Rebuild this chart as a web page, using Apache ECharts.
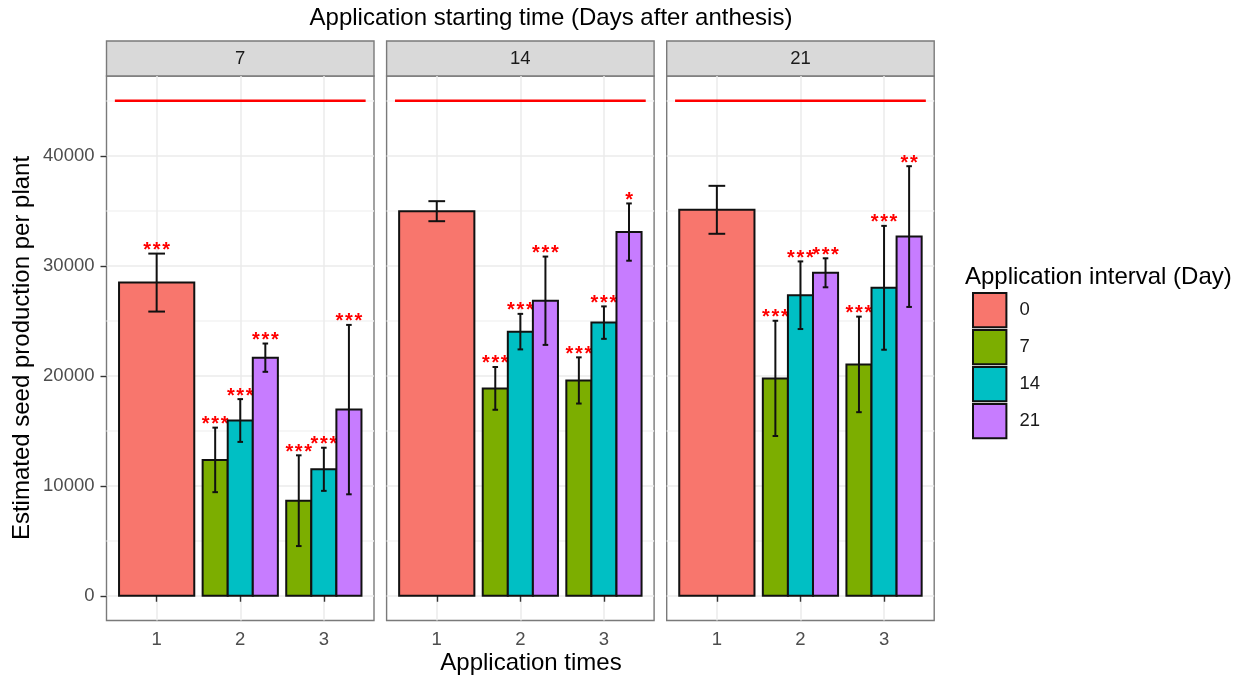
<!DOCTYPE html>
<html><head><meta charset="utf-8">
<script src="https://cdn.jsdelivr.net/npm/echarts@6/dist/echarts.min.js"></script>
<style>html,body{margin:0;padding:0;background:#fff}#c{width:1248px;height:679px}</style>
</head><body><div id="c"></div>
<script>
// ---------------- data ----------------
const facets = ['7', '14', '21'];            // application starting time (days after anthesis)
const intervals = ['0', '7', '14', '21'];    // application interval (day)
const timeTicks = [1, 2, 3];                 // application times
const yTicks = [0, 10000, 20000, 30000, 40000];
// interval 0: only at application time 1, one value per facet
const mean_i0 = [28470, 34960, 35085];
const err_i0 = [2635, 910, 2180];
const sig_i0 = ['***', '', ''];
// intervals 7/14/21: per facet, [time 2, time 3]
const mean_i7 = [[12350, 8642], [18852, 19573], [19761, 21032]];
const err_i7 = [[2933, 4125], [1945, 2100], [5238, 4344]];
const sig_i7 = [['***', '***'], ['***', '***'], ['***', '***']];
const mean_i14 = [[15930, 11496], [24011, 24830], [27321, 27995]];
const err_i14 = [[1945, 1960], [1615, 1475], [3074, 5630]];
const sig_i14 = [['***', '***'], ['***', '***'], ['***', '***']];
const mean_i21 = [[21644, 16922], [26820, 33061], [29360, 32653]];
const err_i21 = [[1286, 7700], [4015, 2603], [1318, 6398]];
const sig_i21 = [['***', '***'], ['***', '*'], ['***', '**']];
const refValue = 45000;
const refSpan = [0.5, 3.5];

// ---------------- layout / style ----------------
const FONT = '"Liberation Sans", Arial, Helvetica, sans-serif';
const colors = ['#F8766D', '#7CAE00', '#00BFC4', '#C77CFF'];
const panelLeft = [106.5, 386.6, 666.7];
const panelW = 267.5, panelTop = 76, panelH = 544.5;
const stripTop = 41, stripH = 35;
const xMin = 0.4, xMax = 3.6, xStep = 0.2;
const yMin = -2250, yMax = 47250, yStep = 250;
const dodge = 0.9;
const INK = '#111111';

function gridColors(min, max, step, kind) {
  const n = Math.round((max - min) / step) + 1, arr = [];
  for (let i = 0; i < n; i++) {
    const v = Math.round((min + i * step) * 1000) / 1000;
    const k = kind(v);
    arr.push(k === 2 ? '#ebebeb' : k === 1 ? '#f3f3f3' : 'rgba(0,0,0,0)');
  }
  return arr;
}
const xGrid = gridColors(xMin, xMax, xStep, v => (Math.abs(v - Math.round(v)) < 1e-6 && v >= 1 && v <= 3) ? 2 : 0);
const yGrid = gridColors(yMin, yMax, yStep, v => (v % 10000 === 0) ? 2 : (v % 5000 === 0 ? 1 : 0));

function makeRender(color, w, cap, sigs) {
  return function (params, api) {
    const x = api.value(0), m = api.value(1), e = api.value(2);
    const bl = api.coord([x - w / 2, 0]), tr = api.coord([x + w / 2, m]);
    const top = api.coord([x, m + e]), bot = api.coord([x, m - e]);
    const cl = api.coord([x - cap / 2, m])[0], cr = api.coord([x + cap / 2, m])[0];
    const ls = { stroke: INK, lineWidth: 2 };
    const children = [
      { type: 'rect', shape: { x: bl[0], y: tr[1], width: tr[0] - bl[0], height: bl[1] - tr[1] },
        style: { fill: color, stroke: INK, lineWidth: 2 } },
      { type: 'line', shape: { x1: top[0], y1: top[1], x2: bot[0], y2: bot[1] }, style: ls },
      { type: 'line', shape: { x1: cl, y1: top[1], x2: cr, y2: top[1] }, style: ls },
      { type: 'line', shape: { x1: cl, y1: bot[1], x2: cr, y2: bot[1] }, style: ls }
    ];
    const s = sigs[params.dataIndex];
    if (s) children.push({ type: 'text', x: top[0], y: top[1] - 3,
      style: { text: s.split('').join('\u200A'), fill: '#ff0000', font: 'bold 20px ' + FONT, align: 'center', verticalAlign: 'middle' } });
    return { type: 'group', children };
  };
}

const grids = [], xAxes = [], yAxes = [], series = [];
const groupMeans = [mean_i7, mean_i14, mean_i21];
const groupErrs = [err_i7, err_i14, err_i21];
const groupSigs = [sig_i7, sig_i14, sig_i21];

facets.forEach((f, i) => {
  grids.push({ left: panelLeft[i], top: panelTop, width: panelW, height: panelH, show: true,
    borderColor: '#7a7a7a', borderWidth: 1.4, backgroundColor: '#fff' });
  xAxes.push({ gridIndex: i, type: 'value', min: xMin, max: xMax, interval: xStep, position: 'top',
    axisLine: { show: false }, axisTick: { show: false }, axisLabel: { show: false },
    splitLine: { show: true, lineStyle: { color: xGrid, width: 1.5 } } });
  xAxes.push({ gridIndex: i, type: 'value', min: xMin, max: xMax, interval: xStep, position: 'bottom',
    axisLine: { show: false },
    axisTick: { show: true, customValues: timeTicks, length: 6, lineStyle: { color: '#333333', width: 1.4 } },
    axisLabel: { show: true, customValues: timeTicks, margin: 10, color: '#4d4d4d', fontSize: 18.5, fontFamily: FONT,
      formatter: v => String(Math.round(v)) },
    splitLine: { show: false } });
  yAxes.push({ gridIndex: i, type: 'value', min: yMin, max: yMax, interval: yStep, position: 'right',
    axisLine: { show: false }, axisTick: { show: false }, axisLabel: { show: false },
    splitLine: { show: true, lineStyle: { color: yGrid, width: 1.5 } } });
  yAxes.push({ gridIndex: i, type: 'value', min: yMin, max: yMax, interval: yStep, position: 'left', show: i === 0,
    axisLine: { show: false },
    axisTick: { show: true, customValues: yTicks, length: 6, lineStyle: { color: '#333333', width: 1.4 } },
    axisLabel: { show: true, customValues: yTicks, margin: 12, color: '#4d4d4d', fontSize: 18.5, fontFamily: FONT,
      formatter: v => String(Math.round(v)) },
    splitLine: { show: false } });

  // interval 0 bar
  series.push({ type: 'custom', name: intervals[0], xAxisIndex: 2 * i + 1, yAxisIndex: 2 * i,
    itemStyle: { color: colors[0] }, clip: false,
    data: [[timeTicks[0], mean_i0[i], err_i0[i]]],
    renderItem: makeRender(colors[0], dodge, 0.2, [sig_i0[i]]) });
  // dodged bars
  for (let k = 1; k < 4; k++) {
    const off = (k - 2) * dodge / 3;
    const data = [1, 2].map(j => [timeTicks[j] + off, groupMeans[k - 1][i][j - 1], groupErrs[k - 1][i][j - 1]]);
    series.push({ type: 'custom', name: intervals[k], xAxisIndex: 2 * i + 1, yAxisIndex: 2 * i,
      itemStyle: { color: colors[k] }, clip: false, data,
      renderItem: makeRender(colors[k], dodge / 3, 0.2 / 3, groupSigs[k - 1][i]) });
  }
  // reference line
  series.push({ type: 'line', xAxisIndex: 2 * i + 1, yAxisIndex: 2 * i, silent: true, z: 3,
    data: refSpan.map(x => [x, refValue]), symbol: 'none',
    lineStyle: { color: '#ff0000', width: 2.5 } });
});

const graphic = [];
facets.forEach((f, i) => {
  graphic.push({ type: 'rect', shape: { x: panelLeft[i], y: stripTop, width: panelW, height: stripH },
    style: { fill: '#d9d9d9', stroke: '#7a7a7a', lineWidth: 1.4 } });
  graphic.push({ type: 'text', x: panelLeft[i] + panelW / 2, y: stripTop + stripH / 2,
    style: { text: f, fill: '#1a1a1a', font: '18.5px ' + FONT, align: 'center', verticalAlign: 'middle' } });
});
graphic.push({ type: 'text', x: 551, y: 18,
  style: { text: 'Application starting time (Days after anthesis)', fill: '#000', font: '24px ' + FONT, align: 'center', verticalAlign: 'middle' } });
graphic.push({ type: 'text', x: 531, y: 663,
  style: { text: 'Application times', fill: '#000', font: '24px ' + FONT, align: 'center', verticalAlign: 'middle' } });
graphic.push({ type: 'text', x: 22, y: 348, rotation: Math.PI / 2,
  style: { text: 'Estimated seed production per plant', fill: '#000', font: '24px ' + FONT, align: 'center', verticalAlign: 'middle' } });
graphic.push({ type: 'text', x: 965, y: 277,
  style: { text: 'Application interval (Day)', fill: '#000', font: '24px ' + FONT, align: 'left', verticalAlign: 'middle' } });

const chart = echarts.init(document.getElementById('c'), null, { renderer: 'canvas' });
chart.setOption({
  animation: false,
  backgroundColor: '#fff',
  grid: grids, xAxis: xAxes, yAxis: yAxes, series, graphic,
  legend: { data: intervals, orient: 'vertical', left: 972, top: 292, padding: 0,
    itemWidth: 33.4, itemHeight: 34.3, itemGap: 0.7, icon: 'rect', selectedMode: false,
    itemStyle: { borderColor: INK, borderWidth: 2 },
    textStyle: { fontSize: 18.5, fontFamily: FONT, color: '#1a1a1a', padding: [0, 0, 0, 8] } }
});
</script></body></html>
